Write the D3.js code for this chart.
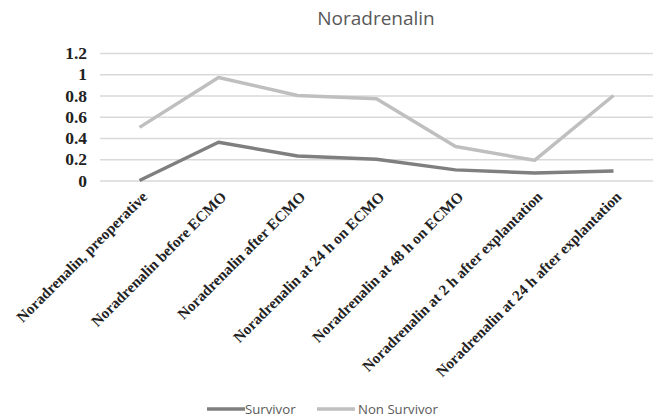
<!DOCTYPE html>
<html><head><meta charset="utf-8">
<script src="https://cdn.jsdelivr.net/npm/d3@7"></script>
<style>body{margin:0;background:#fff}svg{display:block}</style>
</head><body>
<svg id="c" width="655" height="419"></svg>
<script>
const categories = ["Noradrenalin, preoperative","Noradrenalin before ECMO","Noradrenalin after ECMO","Noradrenalin at 24 h on ECMO","Noradrenalin at 48 h on ECMO","Noradrenalin at 2 h after explantation","Noradrenalin at 24 h after explantation"];
const survivor = [0, 0.36, 0.23, 0.2, 0.1, 0.07, 0.09];
const nonSurvivor = [0.5, 0.97, 0.8, 0.77, 0.32, 0.19, 0.8];
const yTicks = [0, 0.2, 0.4, 0.6, 0.8, 1, 1.2];
const seriesNames = ["Survivor", "Non Survivor"];
const colors = ["#7f7f7f", "#bfbfbf"];

const svg = d3.select("#c");
const x = d3.scaleBand().domain(categories).range([100, 653]);
const y = d3.scaleLinear().domain([0, 1.2]).range([180.5, 53]);

svg.append("text").attr("x", 376).attr("y", 25).attr("text-anchor", "middle")
  .attr("font-family", "Open Sans, sans-serif").attr("font-size", 19).attr("fill", "#595959").text("Noradrenalin");

const ya = svg.append("g").attr("transform", "translate(100,0)")
  .call(d3.axisLeft(y).tickValues(yTicks).tickSize(-553).tickFormat(d => String(d)));
ya.select(".domain").remove();
ya.selectAll(".tick line").attr("stroke", "#d9d9d9").attr("stroke-width", 1.5);
ya.selectAll(".tick text").attr("x", -13).attr("font-family", "Liberation Serif, serif")
  .attr("font-weight", "bold").attr("font-size", 17.5).attr("fill", "#222");

const xa = svg.append("g").attr("transform", "translate(0,181)")
  .call(d3.axisBottom(x).tickSize(0));
xa.select(".domain").remove();
xa.selectAll(".tick text").attr("font-family", "Liberation Serif, serif").attr("font-weight", "bold")
  .attr("font-size", 15.2).attr("fill", "#222")
  .attr("text-anchor", "end").attr("dy", "0.35em").attr("dx", 0).attr("y", 0)
  .attr("transform", "translate(5,13) rotate(-45)");

const line = d3.line().x((d, i) => x(categories[i]) + x.bandwidth() / 2).y(d => y(d));
[survivor, nonSurvivor].forEach((s, k) => {
  svg.append("path").datum(s).attr("d", line).attr("fill", "none")
    .attr("stroke", colors[k]).attr("stroke-width", 3.5).attr("stroke-linejoin", "round");
});

const leg = [[207, 245], [317, 358]];
seriesNames.forEach((n, k) => {
  svg.append("line").attr("x1", leg[k][0]).attr("x2", leg[k][0] + 38).attr("y1", 409).attr("y2", 409)
    .attr("stroke", colors[k]).attr("stroke-width", 3.5);
  svg.append("text").attr("x", leg[k][1]).attr("y", 414).attr("font-family", "Open Sans, sans-serif")
    .attr("font-size", 13.2).attr("fill", "#595959").text(n);
});
</script>
</body></html>
